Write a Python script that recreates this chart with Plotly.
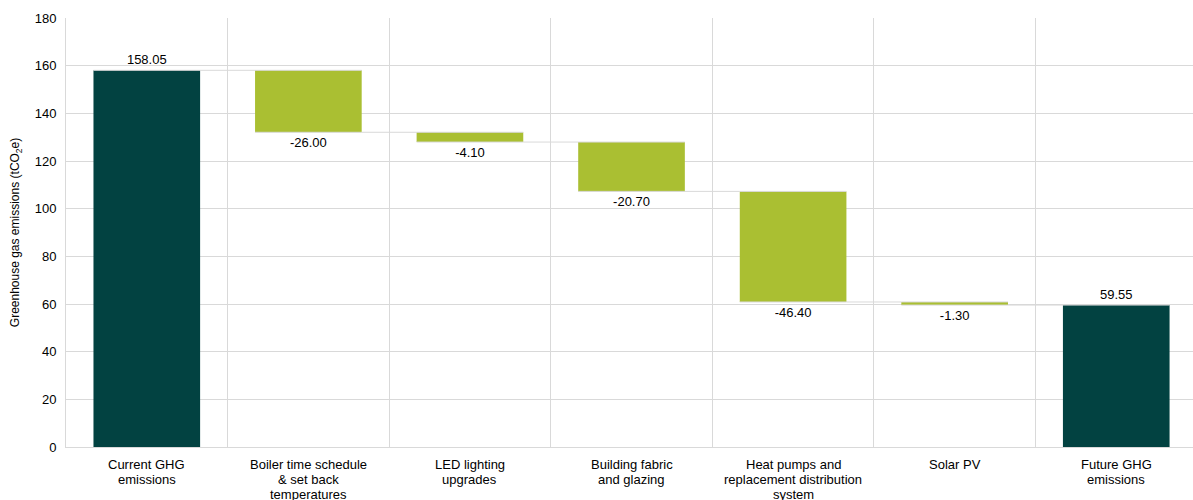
import plotly.graph_objects as go

categories = [
    "Current GHG<br>emissions",
    "Boiler time schedule<br>& set back<br>temperatures",
    "LED lighting<br>upgrades",
    "Building fabric<br>and glazing",
    "Heat pumps and<br>replacement distribution<br>system",
    "Solar PV",
    "Future GHG<br>emissions",
]
values = [158.05, -26.00, -4.10, -20.70, -46.40, -1.30, 0]
measures = ["absolute", "relative", "relative", "relative", "relative", "relative", "total"]
value_labels = ["158.05", "-26.00", "-4.10", "-20.70", "-46.40", "-1.30", "59.55"]
y_ticks = [0, 20, 40, 60, 80, 100, 120, 140, 160, 180]

DARK = "#024241"
GREEN = "#AABF32"
GRID = "#D9D9D9"
FONT = "Liberation Sans, Arial, sans-serif"

fig = go.Figure(
    go.Waterfall(
        x=categories,
        y=values,
        measure=measures,
        text=value_labels,
        textposition="outside",
        textfont=dict(family=FONT, size=13, color="#000000"),
        cliponaxis=False,
        width=0.66,
        decreasing=dict(marker=dict(color=GREEN, line=dict(width=0))),
        increasing=dict(marker=dict(color=GREEN, line=dict(width=0))),
        totals=dict(marker=dict(color=DARK, line=dict(width=0))),
        connector=dict(line=dict(color=GRID, width=1), mode="spanning"),
        hoverinfo="skip",
    )
)

# Category labels, one annotation per line for tighter line spacing
LINE_STEP = 15
for cat in categories:
    for i, line in enumerate(cat.split("<br>")):
        fig.add_annotation(
            x=cat,
            xref="x",
            y=0,
            yref="paper",
            yanchor="top",
            xanchor="center",
            yshift=-8 - LINE_STEP * i,
            text=line,
            showarrow=False,
            font=dict(family=FONT, size=13, color="#000000"),
        )

fig.update_layout(
    width=1193,
    height=500,
    margin=dict(l=66, r=0, t=18, b=53),
    paper_bgcolor="white",
    plot_bgcolor="white",
    showlegend=False,
    font=dict(family=FONT, size=13, color="#000000"),
    xaxis=dict(
        type="category",
        range=[-0.5, 6.475],
        automargin=False,
        tickson="boundaries",
        showgrid=True,
        gridcolor=GRID,
        gridwidth=1,
        ticks="",
        showticklabels=False,
        showline=True,
        linecolor=GRID,
        mirror=False,
    ),
    yaxis=dict(
        range=[0, 180],
        automargin=False,
        tickvals=y_ticks,
        showgrid=True,
        gridcolor=GRID,
        gridwidth=1,
        zeroline=False,
        showline=True,
        linecolor=GRID,
        ticks="",
        ticklen=0,
        ticklabelstandoff=6,
        tickfont=dict(family=FONT, size=13, color="#000000"),
        title=dict(
            text="Greenhouse gas emissions (tCO<sub>2</sub>e)",
            font=dict(family=FONT, size=12, color="#000000"),
            standoff=12,
        ),
    ),
)

fig.write_html("out.html")
